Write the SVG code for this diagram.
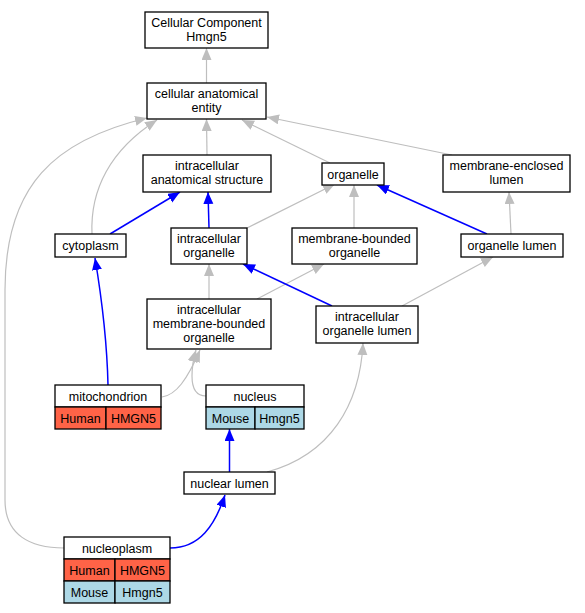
<svg xmlns="http://www.w3.org/2000/svg" width="585" height="613" viewBox="0 0 585 613">
<style>
text{font-family:"Liberation Sans",Arial,sans-serif;font-size:12.5px;text-anchor:middle;fill:#000}
.n rect{fill:#fff;stroke:#000;stroke-width:1.3}
.n rect.h{fill:#ff6347}
.n rect.m{fill:#add8e6}
.g{fill:none;stroke:#bebebe;stroke-width:1.2}
.b{fill:none;stroke:#0000ff;stroke-width:1.5}
</style>
<defs>
<marker id="ag" markerUnits="userSpaceOnUse" markerWidth="13" markerHeight="11" refX="12" refY="5" orient="auto"><path d="M0,0 L12,5 L0,10 z" fill="#bebebe"/></marker>
<marker id="ab" markerUnits="userSpaceOnUse" markerWidth="13" markerHeight="11" refX="12" refY="5" orient="auto"><path d="M0,0 L12,5 L0,10 z" fill="#0000ff"/></marker>
</defs>
<rect width="585" height="613" fill="#fff"/>
<g id="edges">
<path class="g" marker-end="url(#ag)" d="M206.5,83 L206.5,48"/>
<path class="g" marker-end="url(#ag)" d="M207,155 L206.5,119"/>
<path class="g" marker-end="url(#ag)" d="M330,163 L242,120"/>
<path class="g" marker-end="url(#ag)" d="M452,155 L267,117"/>
<path class="g" marker-end="url(#ag)" d="M92,234 C90,190 110,150 157,120"/>
<path class="g" marker-end="url(#ag)" d="M64,548 C30,548 5,535 5,500 L5,290 C5,185 55,140 147,118"/>
<path class="b" marker-end="url(#ab)" d="M110,234 L180,192"/>
<path class="b" marker-end="url(#ab)" d="M209,228 L208,192"/>
<path class="g" marker-end="url(#ag)" d="M247,228 L335,184"/>
<path class="g" marker-end="url(#ag)" d="M354,228 L354,185"/>
<path class="b" marker-end="url(#ab)" d="M487,234 L377,185"/>
<path class="g" marker-end="url(#ag)" d="M511,234 L509,192"/>
<path class="g" marker-end="url(#ag)" d="M209,299 L209,264"/>
<path class="g" marker-end="url(#ag)" d="M257,299 L324,264"/>
<path class="b" marker-end="url(#ab)" d="M332,306 L243,264"/>
<path class="g" marker-end="url(#ag)" d="M402,306 L493,257"/>
<path class="b" marker-end="url(#ab)" d="M108,385 C107,340 102,300 95,258"/>
<path class="g" marker-end="url(#ag)" d="M162,397 C176,395 187,380 200,350"/>
<path class="g" marker-end="url(#ag)" d="M206,396 C196,396 192,388 192,376 C192,368 193,360 196,350"/>
<path class="b" marker-end="url(#ab)" d="M229.5,472 L229.5,429"/>
<path class="g" marker-end="url(#ag)" d="M267,472 C330,455 360,405 363,343"/>
<path class="b" marker-end="url(#ab)" d="M170,548 C200,548 215,525 225,495"/>
</g>
<g id="cc" class="n"><rect x="145" y="12" width="123" height="36"/><text x="206.5" y="26.5">Cellular Component</text><text x="206.5" y="40.5">Hmgn5</text></g>
<g id="cae" class="n"><rect x="147" y="83" width="119" height="36"/><text x="206.5" y="97.5">cellular anatomical</text><text x="206.5" y="111.5">entity</text></g>
<g id="ias" class="n"><rect x="143" y="155" width="128" height="37"/><text x="207" y="170">intracellular</text><text x="207" y="184">anatomical structure</text></g>
<g id="organelle" class="n"><rect x="322" y="163" width="62" height="22"/><text x="353" y="178.5">organelle</text></g>
<g id="mel" class="n"><rect x="443" y="155" width="127" height="37"/><text x="506.5" y="170">membrane-enclosed</text><text x="506.5" y="184">lumen</text></g>
<g id="cytoplasm" class="n"><rect x="55" y="234" width="71" height="23"/><text x="90.5" y="250">cytoplasm</text></g>
<g id="io" class="n"><rect x="171" y="228" width="76" height="36"/><text x="209" y="242.5">intracellular</text><text x="209" y="256.5">organelle</text></g>
<g id="mbo" class="n"><rect x="292" y="228" width="125" height="36"/><text x="354.5" y="242.5">membrane-bounded</text><text x="354.5" y="256.5">organelle</text></g>
<g id="ol" class="n"><rect x="461" y="234" width="102" height="23"/><text x="512" y="250">organelle lumen</text></g>
<g id="imbo" class="n"><rect x="147" y="299" width="124" height="50"/><text x="209" y="314">intracellular</text><text x="209" y="328">membrane-bounded</text><text x="209" y="342">organelle</text></g>
<g id="iol" class="n"><rect x="316" y="306" width="102" height="37"/><text x="367" y="321">intracellular</text><text x="367" y="335">organelle lumen</text></g>
<g id="mito" class="n"><rect x="55" y="385" width="106" height="22"/><text x="108" y="400.5">mitochondrion</text><rect class="h" x="55" y="407" width="51" height="22"/><text x="80.5" y="422.5">Human</text><rect class="h" x="106" y="407" width="55" height="22"/><text x="133.5" y="422.5">HMGN5</text></g>
<g id="nucleus" class="n"><rect x="206" y="385" width="98" height="22"/><text x="255" y="400.5">nucleus</text><rect class="m" x="206" y="407" width="49" height="22"/><text x="230.5" y="422.5">Mouse</text><rect class="m" x="255" y="407" width="49" height="22"/><text x="279.5" y="422.5">Hmgn5</text></g>
<g id="nl" class="n"><rect x="184" y="472" width="91" height="22"/><text x="229.5" y="487.5">nuclear lumen</text></g>
<g id="nucleoplasm" class="n"><rect x="64" y="537" width="106" height="22"/><text x="117" y="552.5">nucleoplasm</text><rect class="h" x="64" y="559" width="51" height="22"/><text x="89.5" y="574.5">Human</text><rect class="h" x="115" y="559" width="55" height="22"/><text x="142.5" y="574.5">HMGN5</text><rect class="m" x="64" y="581" width="51" height="22"/><text x="89.5" y="596.5">Mouse</text><rect class="m" x="115" y="581" width="55" height="22"/><text x="142.5" y="596.5">Hmgn5</text></g>
</svg>
